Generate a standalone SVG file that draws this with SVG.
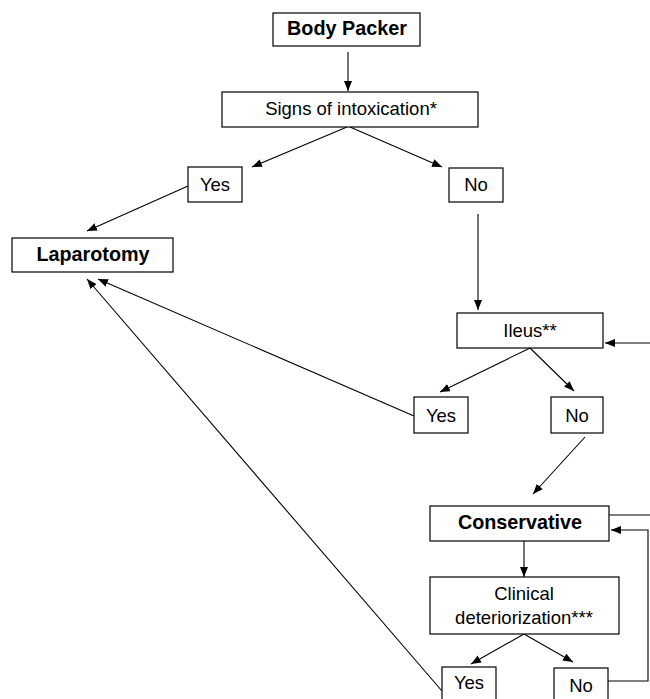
<svg xmlns="http://www.w3.org/2000/svg" width="650" height="699" viewBox="0 0 650 699">
<defs>
<marker id="ah" markerUnits="userSpaceOnUse" markerWidth="11" markerHeight="9" refX="10" refY="4" orient="auto">
<path d="M0,0 L10,4 L0,8 z" fill="#000"/>
</marker>
<style>
.box{fill:#fff;stroke:#000;stroke-width:1.2}
.t{font-family:"Liberation Sans",Arial,sans-serif;font-size:18.5px;fill:#000;text-anchor:middle}
.b{font-weight:bold;font-size:19.8px}
.c{fill:none;stroke:#000;stroke-width:1.1}
.a{marker-end:url(#ah)}
</style>
</defs>
<rect width="650" height="699" fill="#fff"/>
<g id="connectors">
<line class="c a" x1="348" y1="52" x2="348" y2="91"/>
<line class="c a" x1="347" y1="127" x2="252" y2="167"/>
<line class="c a" x1="350" y1="127" x2="442" y2="167"/>
<line class="c a" x1="188" y1="186" x2="87" y2="231"/>
<line class="c a" x1="478" y1="214" x2="478" y2="310"/>
<line class="c a" x1="650" y1="343" x2="605" y2="343"/>
<line class="c a" x1="530" y1="348" x2="440" y2="392"/>
<line class="c a" x1="530" y1="348" x2="574" y2="391"/>
<line class="c a" x1="414" y1="416" x2="98" y2="279"/>
<line class="c a" x1="585" y1="437" x2="533" y2="494"/>
<line class="c" x1="609" y1="515" x2="650" y2="515"/>
<path class="c a" d="M608,681 H648 V530 H611"/>
<line class="c a" x1="524" y1="541" x2="524" y2="577"/>
<line class="c a" x1="524" y1="634" x2="471" y2="664"/>
<line class="c a" x1="524" y1="634" x2="573" y2="662"/>
<line class="c a" x1="442" y1="691" x2="87" y2="279"/>
</g>
<g id="body-packer"><rect class="box" x="273" y="13" width="147" height="33"/><text class="t b" x="347" y="35">Body Packer</text></g>
<g id="signs"><rect class="box" x="222" y="92" width="256" height="35"/><text class="t" x="351" y="115">Signs of intoxication*</text></g>
<g id="yes1"><rect class="box" x="188" y="167" width="54" height="35"/><text class="t" x="215" y="191">Yes</text></g>
<g id="no1"><rect class="box" x="449" y="168" width="54" height="34"/><text class="t" x="476" y="191">No</text></g>
<g id="laparotomy"><rect class="box" x="12" y="238" width="161" height="34"/><text class="t b" x="93" y="261">Laparotomy</text></g>
<g id="ileus"><rect class="box" x="457" y="313" width="146" height="35"/><text class="t" x="530" y="337">Ileus**</text></g>
<g id="yes2"><rect class="box" x="414" y="397" width="54" height="36"/><text class="t" x="441" y="422">Yes</text></g>
<g id="no2"><rect class="box" x="551" y="397" width="52" height="36"/><text class="t" x="577" y="422">No</text></g>
<g id="conservative"><rect class="box" x="430" y="506" width="179" height="35"/><text class="t b" x="520" y="529">Conservative</text></g>
<g id="clinical"><rect class="box" x="430" y="577" width="189" height="57"/><text class="t" x="524" y="600">Clinical</text><text class="t" x="524" y="624">deteriorization***</text></g>
<g id="yes3"><rect class="box" x="442" y="667" width="54" height="40"/><text class="t" x="469" y="689">Yes</text></g>
<g id="no3"><rect class="box" x="554" y="668" width="54" height="40"/><text class="t" x="581" y="692">No</text></g>
</svg>
